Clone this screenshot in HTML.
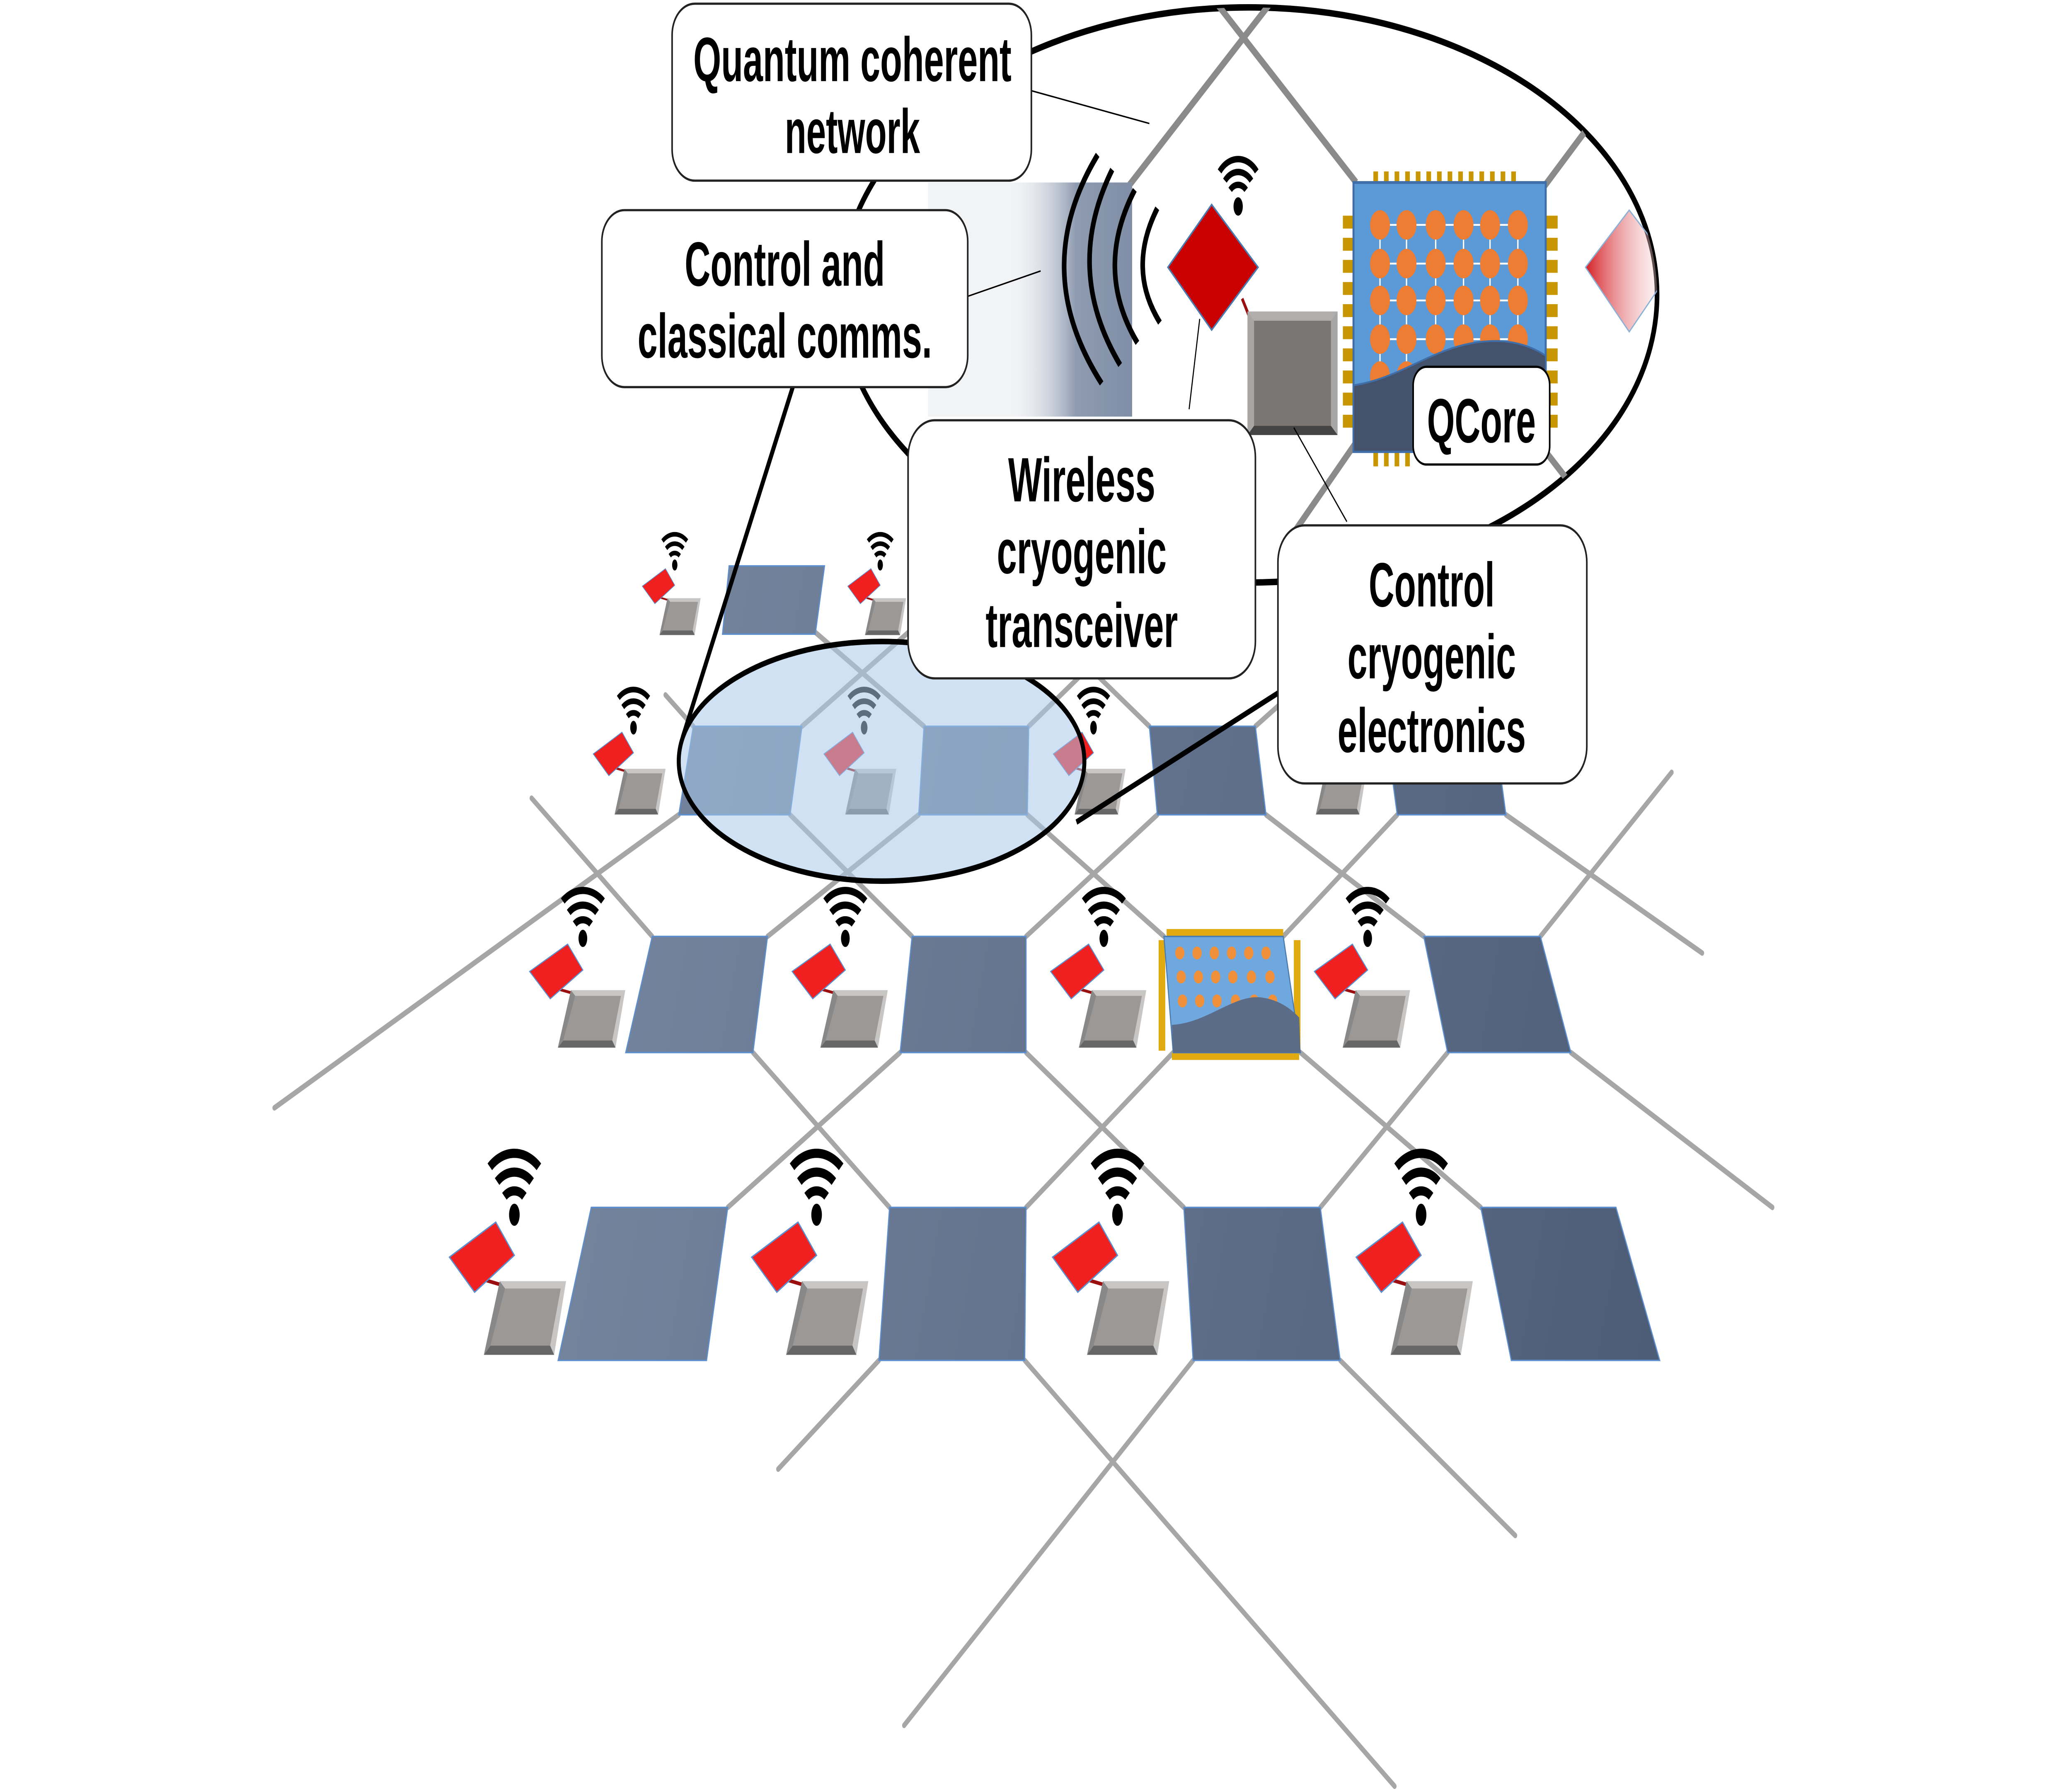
<!DOCTYPE html>
<html><head><meta charset="utf-8"><style>
html,body{margin:0;padding:0;background:#fff;width:100%;height:100%;overflow:hidden}
svg{display:block;position:absolute;left:0;top:0;width:100vw;height:100vh}
text{font-family:"Liberation Sans",sans-serif;font-weight:bold;fill:#000}
</style></head><body>
<svg viewBox="0 0 1563 971.6" preserveAspectRatio="none" xmlns="http://www.w3.org/2000/svg">
<defs>
<linearGradient id="sq" gradientUnits="userSpaceOnUse" x1="420" y1="500" x2="1250" y2="700">
<stop offset="0" stop-color="#76869f"/><stop offset="1" stop-color="#4d5d78"/></linearGradient>
<linearGradient id="wv" x1="0" y1="0" x2="1" y2="0">
<stop offset="0" stop-color="#f3f4f6" stop-opacity="0"/><stop offset="0.55" stop-color="#8e9bb0"/><stop offset="1" stop-color="#7f8ea6"/></linearGradient>
<linearGradient id="rd" x1="0" y1="0" x2="1" y2="0">
<stop offset="0" stop-color="#d42025"/><stop offset="1" stop-color="#fff" stop-opacity="0.2"/></linearGradient>
<clipPath id="ec"><ellipse cx="942" cy="160" rx="308" ry="156"/></clipPath>
<g id="u">
<line x1="30" y1="72" x2="44" y2="75" stroke="#9a1010" stroke-width="2"/>
<polygon points="40,41 54,59 24,79 5,60" fill="#f02020" stroke="#5b8fd0" stroke-width="0.8"/>
<polygon points="43,73 93,73 84,113 31,113" fill="#c8c6c4"/>
<polygon points="47,77 89,77 81,108 36,108" fill="#9c9896"/>
<polygon points="31,113 36,108 81,108 84,113" fill="#666"/>
<polygon points="43,73 47,77 36,108 31,113" fill="#888"/>
<ellipse cx="54" cy="37" rx="4" ry="6"/>
<path d="M46.5,27 A11,11 0 0 1 61.5,27" fill="none" stroke="#000" stroke-width="5"/>
<path d="M41,19 A19,19 0 0 1 67,19" fill="none" stroke="#000" stroke-width="5"/>
<path d="M35.5,11 A27,27 0 0 1 72.5,11" fill="none" stroke="#000" stroke-width="5"/>
</g>
</defs>

<g stroke="#a6a6a6" stroke-width="3" fill="none" stroke-linecap="round">
<line x1="512" y1="442" x2="207" y2="601"/>
<line x1="401" y1="433" x2="492" y2="508"/>
<line x1="596" y1="442" x2="688" y2="508"/>
<line x1="693" y1="442" x2="579" y2="508"/>
<line x1="775" y1="442" x2="878" y2="508"/>
<line x1="873" y1="442" x2="774" y2="508"/>
<line x1="955" y1="442" x2="1074" y2="508"/>
<line x1="1054" y1="442" x2="968" y2="508"/>
<line x1="1136" y1="442" x2="1284" y2="517"/>
<line x1="1261" y1="419" x2="1162" y2="508"/>
<line x1="568" y1="571" x2="671" y2="655"/>
<line x1="679" y1="571" x2="549" y2="655"/>
<line x1="774" y1="571" x2="893" y2="655"/>
<line x1="885" y1="571" x2="774" y2="655"/>
<line x1="981" y1="571" x2="1117" y2="655"/>
<line x1="1092" y1="571" x2="996" y2="655"/>
<line x1="1185" y1="571" x2="1337" y2="655"/>
<line x1="663" y1="738" x2="587" y2="797"/>
<line x1="773" y1="738" x2="1052" y2="969"/>
<line x1="900" y1="738" x2="682" y2="936"/>
<line x1="1011" y1="738" x2="1143" y2="833"/>
<line x1="502" y1="377" x2="523" y2="394"/>
<line x1="605" y1="394" x2="690" y2="340"/>
<line x1="697" y1="394" x2="615" y2="343"/>
<line x1="776" y1="394" x2="860" y2="335"/>
<line x1="867" y1="394" x2="790" y2="340"/>
<line x1="947" y1="394" x2="1000" y2="360"/>
</g>

<g fill="url(#sq)" stroke="#5b8fd0" stroke-width="0.8">
<polygon points="550,307 622,307 615,344 545,344"/>
<polygon points="690,307 760,307 760,344 688,344"/>
<polygon points="523,394 605,394 596,442 512,442"/>
<polygon points="697,394 776,394 775,442 693,442"/>
<polygon points="867,394 947,394 955,442 873,442"/>
<polygon points="1045,394 1127,394 1136,442 1054,442"/>
<polygon points="492,508 579,508 568,571 472,571"/>
<polygon points="688,508 774,508 774,571 679,571"/>
<polygon points="1074,508 1162,508 1185,571 1092,571"/>
<polygon points="446,655 549,655 533,738 421,738"/>
<polygon points="671,655 774,655 773,738 663,738"/>
<polygon points="893,655 996,655 1011,738 900,738"/>
<polygon points="1117,655 1219,655 1252,738 1140,738"/>
</g>

<g>
<g fill="#e0aa10">
<rect x="880" y="504" width="88" height="4"/><rect x="884" y="571" width="96" height="4"/>
<rect x="874" y="510" width="5" height="60"/><rect x="976" y="510" width="5" height="60"/>
</g>
<polygon points="878,508 968,508 981,571 885,571" fill="#6fa8de" stroke="#4a7ab0" stroke-width="0.8"/>
<g fill="#f0903a">
<circle cx="890" cy="517" r="3.5"/><circle cx="903" cy="517" r="3.5"/><circle cx="916" cy="517" r="3.5"/><circle cx="929" cy="517" r="3.5"/><circle cx="942" cy="517" r="3.5"/><circle cx="955" cy="517" r="3.5"/>
<circle cx="891" cy="530" r="3.5"/><circle cx="904" cy="530" r="3.5"/><circle cx="917" cy="530" r="3.5"/><circle cx="930" cy="530" r="3.5"/><circle cx="944" cy="530" r="3.5"/><circle cx="958" cy="530" r="3.5"/>
<circle cx="892" cy="543" r="3.5"/><circle cx="905" cy="543" r="3.5"/><circle cx="918" cy="543" r="3.5"/><circle cx="932" cy="543" r="3.5"/><circle cx="946" cy="543" r="3.5"/><circle cx="960" cy="543" r="3.5"/>
</g>
<path d="M884,556 C910,555 930,540 950,541 C965,542 975,548 980,552 L981,571 L885,571 Z" fill="#5b6c88"/>
</g>

<use href="#u" transform="translate(497,318) scale(0.5) translate(-30,-60)"/>
<use href="#u" transform="translate(652,318) scale(0.5) translate(-30,-60)"/>
<use href="#u" transform="translate(463,409) scale(0.62) translate(-30,-60)"/>
<use href="#u" transform="translate(637,409) scale(0.62) translate(-30,-60)"/>
<use href="#u" transform="translate(810,409) scale(0.62) translate(-30,-60)"/>
<use href="#u" transform="translate(992,409) scale(0.62) translate(-30,-60)"/>
<use href="#u" transform="translate(420,527) scale(0.82,0.78) translate(-30,-60)"/>
<use href="#u" transform="translate(618,527) scale(0.82,0.78) translate(-30,-60)"/>
<use href="#u" transform="translate(813,527) scale(0.82,0.78) translate(-30,-60)"/>
<use href="#u" transform="translate(1012,527) scale(0.82,0.78) translate(-30,-60)"/>
<use href="#u" transform="translate(334,622)"/>
<use href="#u" transform="translate(562,622)"/>
<use href="#u" transform="translate(789,622)"/>
<use href="#u" transform="translate(1018,622)"/>

<ellipse cx="665" cy="413" rx="153" ry="65" fill="#a8c8e8" fill-opacity="0.55" stroke="#000" stroke-width="3"/>
<line x1="598" y1="210" x2="515" y2="400" stroke="#000" stroke-width="3"/>
<line x1="964" y1="376" x2="812" y2="446" stroke="#000" stroke-width="3"/>

<ellipse cx="942" cy="160" rx="308" ry="156" fill="#fff" stroke="#000" stroke-width="3.5"/>
<g clip-path="url(#ec)">
<g stroke="#8a8a8a" stroke-width="4" fill="none">
<line x1="918" y1="2" x2="1023" y2="99"/>
<line x1="958" y1="2" x2="820" y2="130"/>
<line x1="1023" y1="240" x2="974" y2="291"/>
<line x1="1167" y1="246" x2="1195" y2="272"/>
<line x1="1165" y1="101" x2="1195" y2="72"/>
</g>
<rect x="700" y="99" width="154" height="127" fill="#f2f3f5"/>
<rect x="760" y="99" width="94" height="127" fill="url(#wv)"/>
<g fill="none" stroke="#000" stroke-width="3.5">
<path d="M828,84 Q776,146 831,208"/>
<path d="M839,92 Q802,146 845,198"/>
<path d="M856,103 Q825,146 858,186"/>
<path d="M873,113 Q850,146 875,175"/>
</g>
<polygon points="1229,114 1262,145 1229,180 1196,145" fill="url(#rd)" stroke="#8ab0d8" stroke-width="0.8"/>
</g>
<line x1="937" y1="162" x2="942" y2="171" stroke="#9a1010" stroke-width="2"/>
<polygon points="914,111 949,145 914,179 881,145" fill="#c80000" stroke="#4a7ab0" stroke-width="1"/>
<ellipse cx="934" cy="112" rx="3.5" ry="5"/>
<g fill="none" stroke="#000" stroke-width="3.5">
<path d="M928,103 A8,8 0 0 1 940,103"/>
<path d="M924,98 A13,13 0 0 1 944,98"/>
<path d="M920,93 A18,18 0 0 1 948,93"/>
</g>
<rect x="941" y="169" width="68" height="67" fill="#a8a6a4"/>
<polygon points="946,174 1004,174 1004,231 946,231" fill="#7a7674"/>
<polygon points="941,236 946,231 1004,231 1009,236" fill="#444"/>
<polygon points="941,169 946,174 1004,174 1009,169" fill="#b0aeac"/>

<g fill="#c89600">
<rect x="1036" y="93" width="3.5" height="15"/><rect x="1044" y="93" width="3.5" height="15"/><rect x="1052" y="93" width="3.5" height="15"/><rect x="1060" y="93" width="3.5" height="15"/><rect x="1068" y="93" width="3.5" height="15"/><rect x="1076" y="93" width="3.5" height="15"/><rect x="1084" y="93" width="3.5" height="15"/><rect x="1092" y="93" width="3.5" height="15"/><rect x="1100" y="93" width="3.5" height="15"/><rect x="1108" y="93" width="3.5" height="15"/><rect x="1116" y="93" width="3.5" height="15"/><rect x="1124" y="93" width="3.5" height="15"/><rect x="1132" y="93" width="3.5" height="15"/><rect x="1140" y="93" width="3.5" height="15"/>
<rect x="1036" y="243" width="3.5" height="10"/><rect x="1044" y="243" width="3.5" height="10"/><rect x="1052" y="243" width="3.5" height="10"/><rect x="1060" y="243" width="3.5" height="10"/>
<rect x="1013" y="117" width="14" height="7"/><rect x="1013" y="129" width="14" height="7"/><rect x="1013" y="141" width="14" height="7"/><rect x="1013" y="153" width="14" height="7"/><rect x="1013" y="165" width="14" height="7"/><rect x="1013" y="177" width="14" height="7"/><rect x="1013" y="189" width="14" height="7"/><rect x="1013" y="201" width="14" height="7"/><rect x="1013" y="213" width="14" height="7"/><rect x="1013" y="225" width="14" height="7"/>
<rect x="1161" y="117" width="14" height="7"/><rect x="1161" y="129" width="14" height="7"/><rect x="1161" y="141" width="14" height="7"/><rect x="1161" y="153" width="14" height="7"/><rect x="1161" y="165" width="14" height="7"/><rect x="1161" y="177" width="14" height="7"/><rect x="1161" y="189" width="14" height="7"/><rect x="1161" y="201" width="14" height="7"/><rect x="1161" y="213" width="14" height="7"/><rect x="1161" y="225" width="14" height="7"/>
</g>
<rect x="1021" y="99" width="145" height="146" fill="#5b9ad6" stroke="#3f6ea8" stroke-width="1.5"/>
<g stroke="#fff" stroke-width="1">
<line x1="1041" y1="122" x2="1145" y2="122"/><line x1="1041" y1="143" x2="1145" y2="143"/><line x1="1041" y1="163" x2="1145" y2="163"/><line x1="1041" y1="184" x2="1145" y2="184"/>
<line x1="1041" y1="122" x2="1041" y2="215"/><line x1="1061" y1="122" x2="1061" y2="215"/><line x1="1083" y1="122" x2="1083" y2="215"/><line x1="1104" y1="122" x2="1104" y2="215"/><line x1="1124" y1="122" x2="1124" y2="215"/><line x1="1145" y1="122" x2="1145" y2="215"/>
</g>
<g fill="#ec7d32">
<g id="dr"><ellipse cx="1041" cy="122" rx="7.5" ry="8"/><ellipse cx="1061" cy="122" rx="7.5" ry="8"/><ellipse cx="1083" cy="122" rx="7.5" ry="8"/><ellipse cx="1104" cy="122" rx="7.5" ry="8"/><ellipse cx="1124" cy="122" rx="7.5" ry="8"/><ellipse cx="1145" cy="122" rx="7.5" ry="8"/></g>
<use href="#dr" transform="translate(0,21)"/><use href="#dr" transform="translate(0,41)"/><use href="#dr" transform="translate(0,62)"/><use href="#dr" transform="translate(0,82)"/>
</g>
<path d="M1021,209 C1060,205 1085,185 1128,185 C1145,185 1158,189 1166,193 L1166,245 L1021,245 Z" fill="#44536b" stroke="#3f6ea8" stroke-width="1"/>
<rect x="1066" y="199" width="103" height="53" rx="10" fill="#fff" stroke="#000" stroke-width="1.2"/>
<text x="1117.5" y="240" text-anchor="middle" font-size="34" textLength="82" lengthAdjust="spacingAndGlyphs">QCore</text>

<g stroke="#000" stroke-width="0.8">
<line x1="777" y1="49" x2="867" y2="67"/>
<line x1="729" y1="161" x2="785" y2="147"/>
<line x1="905" y1="173" x2="897" y2="222"/>
<line x1="976" y1="232" x2="1016" y2="283"/>
</g>

<g fill="#fff" stroke="#222" stroke-width="1.2">
<rect x="507" y="2" width="271" height="96" rx="17"/>
<rect x="454" y="114" width="276" height="96" rx="17"/>
<rect x="685" y="228" width="262" height="140" rx="20"/>
<rect x="964" y="285" width="233" height="140" rx="20"/>
</g>
<g font-size="34" text-anchor="middle">
<text x="643" y="44" textLength="240" lengthAdjust="spacingAndGlyphs">Quantum coherent</text>
<text x="643" y="83" textLength="102" lengthAdjust="spacingAndGlyphs">network</text>
<text x="592" y="155" textLength="151" lengthAdjust="spacingAndGlyphs">Control and</text>
<text x="592" y="194" textLength="222" lengthAdjust="spacingAndGlyphs">classical comms.</text>
<text x="816" y="272" textLength="111" lengthAdjust="spacingAndGlyphs">Wireless</text>
<text x="816" y="311" textLength="128" lengthAdjust="spacingAndGlyphs">cryogenic</text>
<text x="816" y="351" textLength="145" lengthAdjust="spacingAndGlyphs">transceiver</text>
<text x="1080" y="329" textLength="95" lengthAdjust="spacingAndGlyphs">Control</text>
<text x="1080" y="368" textLength="127" lengthAdjust="spacingAndGlyphs">cryogenic</text>
<text x="1080" y="408" textLength="142" lengthAdjust="spacingAndGlyphs">electronics</text>
</g>
</svg>
</body></html>
